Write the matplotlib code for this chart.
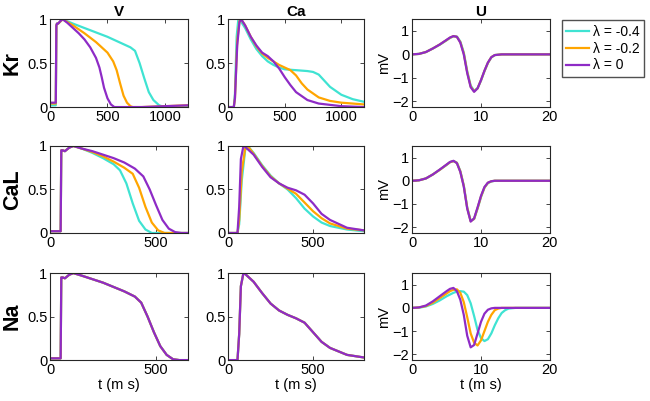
import numpy as np
import matplotlib
matplotlib.use('Agg')
import matplotlib.pyplot as plt

plt.rcParams['font.family'] = ['Liberation Sans', 'DejaVu Sans']
plt.rcParams['font.size'] = 10

cyan = '#3FE3D2'
orange = '#FFA500'
purple = '#8E2BC6'
lam_labels = ['\u03bb = -0.4', '\u03bb = -0.2', '\u03bb = 0']

# ---- Kr row ----
kr_v_t_cyan = [0, 50, 55, 60, 70, 110, 200, 300, 400, 500, 600, 700, 740, 780, 820, 860, 900, 950, 1000, 1200]
kr_v_cyan = [0.02, 0.02, 0.93, 0.95, 0.95, 1.0, 0.95, 0.9, 0.85, 0.8, 0.74, 0.68, 0.64, 0.5, 0.33, 0.17, 0.08, 0.02, 0.0, 0.01]
kr_v_t_orange = [0, 50, 55, 60, 70, 110, 200, 300, 400, 500, 550, 580, 610, 640, 670, 700, 720, 800, 1200]
kr_v_orange = [0.04, 0.04, 0.93, 0.95, 0.95, 1.0, 0.93, 0.84, 0.74, 0.62, 0.52, 0.42, 0.27, 0.13, 0.05, 0.01, 0.0, 0.0, 0.02]
kr_v_t_purple = [0, 50, 55, 60, 70, 90, 110, 150, 200, 250, 300, 350, 400, 430, 450, 470, 500, 530, 560, 600, 800, 1000, 1200]
kr_v_purple = [0.05, 0.05, 0.93, 0.95, 0.95, 0.98, 1.0, 0.96, 0.9, 0.84, 0.77, 0.68, 0.56, 0.45, 0.34, 0.22, 0.1, 0.03, 0.0, 0.0, 0.0, 0.01, 0.02]

kr_ca_t_cyan = [0, 50, 60, 75, 90, 100, 150, 200, 250, 300, 350, 400, 450, 500, 600, 700, 750, 800, 850, 900, 1000, 1100, 1200]
kr_ca_cyan = [0, 0, 0.15, 0.8, 1.0, 1.0, 0.9, 0.77, 0.66, 0.58, 0.52, 0.48, 0.45, 0.43, 0.42, 0.41, 0.4, 0.37, 0.3, 0.23, 0.14, 0.09, 0.06]
kr_ca_t_orange = [0, 50, 60, 80, 100, 115, 150, 200, 250, 300, 350, 400, 450, 500, 550, 600, 650, 700, 800, 900, 1000, 1200]
kr_ca_orange = [0, 0, 0.1, 0.75, 0.98, 1.0, 0.93, 0.8, 0.69, 0.61, 0.56, 0.52, 0.48, 0.45, 0.42, 0.36, 0.27, 0.2, 0.11, 0.07, 0.05, 0.03]
kr_ca_t_purple = [0, 50, 60, 80, 100, 115, 150, 200, 250, 300, 350, 400, 450, 500, 550, 600, 700, 800, 1000, 1200]
kr_ca_purple = [0, 0, 0.1, 0.7, 0.97, 1.0, 0.93, 0.8, 0.7, 0.62, 0.58, 0.52, 0.44, 0.34, 0.25, 0.17, 0.08, 0.04, 0.01, 0.0]

kr_u_t = [0, 1, 2, 3, 4, 5, 5.5, 6, 6.5, 7, 7.5, 8, 8.5, 9, 9.5, 10, 10.5, 11, 11.5, 12, 13, 14, 20]
kr_u_cyan = [0, 0.02, 0.1, 0.25, 0.41, 0.6, 0.7, 0.77, 0.76, 0.55, 0.08, -0.72, -1.33, -1.55, -1.45, -1.12, -0.72, -0.37, -0.13, -0.03, 0, 0, 0]
kr_u_orange = [0, 0.02, 0.1, 0.25, 0.42, 0.61, 0.71, 0.78, 0.75, 0.52, 0.04, -0.76, -1.37, -1.58, -1.45, -1.1, -0.71, -0.36, -0.12, -0.03, 0, 0, 0]
kr_u_purple = [0, 0.02, 0.1, 0.25, 0.42, 0.62, 0.72, 0.78, 0.75, 0.5, 0.0, -0.8, -1.4, -1.6, -1.45, -1.1, -0.7, -0.35, -0.12, -0.03, 0, 0, 0]

# ---- CaL row ----
cal_v_t_cyan = [0, 50, 53, 60, 70, 90, 110, 150, 200, 250, 300, 330, 360, 390, 420, 450, 480, 650]
cal_v_cyan = [0.02, 0.02, 0.95, 0.95, 0.94, 0.98, 1.0, 0.97, 0.92, 0.86, 0.79, 0.72, 0.57, 0.34, 0.14, 0.04, 0.0, 0.0]
cal_v_t_orange = [0, 50, 53, 60, 70, 90, 110, 150, 200, 250, 300, 350, 390, 420, 450, 480, 510, 540, 650]
cal_v_orange = [0.02, 0.02, 0.95, 0.95, 0.94, 0.98, 1.0, 0.97, 0.93, 0.88, 0.82, 0.75, 0.68, 0.52, 0.3, 0.12, 0.03, 0.0, 0.0]
cal_v_t_purple = [0, 50, 53, 60, 70, 90, 110, 150, 200, 250, 300, 350, 400, 440, 470, 500, 530, 560, 590, 620, 650]
cal_v_purple = [0.02, 0.02, 0.95, 0.95, 0.94, 0.98, 1.0, 0.97, 0.94, 0.9, 0.86, 0.81, 0.74, 0.65, 0.5, 0.32, 0.15, 0.05, 0.01, 0.0, 0.0]

cal_ca_t_cyan = [0, 55, 65, 80, 100, 115, 150, 200, 250, 300, 350, 400, 450, 500, 550, 600, 700, 800]
cal_ca_cyan = [0, 0, 0.1, 0.6, 0.95, 1.0, 0.92, 0.78, 0.66, 0.57, 0.5, 0.4, 0.28, 0.19, 0.12, 0.08, 0.04, 0.02]
cal_ca_t_orange = [0, 55, 65, 80, 100, 115, 150, 200, 250, 300, 350, 400, 450, 500, 550, 600, 700, 800]
cal_ca_orange = [0, 0, 0.15, 0.7, 0.97, 1.0, 0.91, 0.77, 0.65, 0.57, 0.51, 0.45, 0.35, 0.25, 0.17, 0.11, 0.05, 0.03]
cal_ca_t_purple = [0, 55, 65, 75, 90, 100, 150, 200, 250, 300, 350, 400, 450, 500, 550, 600, 700, 800]
cal_ca_purple = [0, 0, 0.3, 0.85, 1.0, 0.99, 0.9, 0.76, 0.64, 0.57, 0.52, 0.49, 0.44, 0.34, 0.22, 0.15, 0.06, 0.03]

cal_u_t = [0, 1, 2, 3, 4, 5, 5.5, 6, 6.5, 7, 7.5, 8, 8.5, 9, 9.5, 10, 10.5, 11, 11.5, 12, 13, 20]
cal_u_cyan = [0, 0.02, 0.1, 0.27, 0.47, 0.68, 0.8, 0.85, 0.78, 0.42, -0.2, -1.15, -1.72, -1.65, -1.2, -0.7, -0.3, -0.1, -0.03, 0, 0, 0]
cal_u_orange = [0, 0.02, 0.1, 0.27, 0.47, 0.69, 0.8, 0.85, 0.77, 0.4, -0.22, -1.17, -1.74, -1.64, -1.18, -0.68, -0.29, -0.09, -0.02, 0, 0, 0]
cal_u_purple = [0, 0.02, 0.1, 0.27, 0.48, 0.7, 0.81, 0.86, 0.76, 0.38, -0.25, -1.2, -1.76, -1.62, -1.15, -0.65, -0.27, -0.08, -0.02, 0, 0, 0]

# ---- Na row ----
na_v_t = [0, 50, 53, 60, 70, 90, 110, 150, 200, 250, 300, 350, 400, 430, 460, 490, 520, 550, 580, 610, 650]
na_v = [0.02, 0.02, 0.95, 0.95, 0.94, 0.98, 1.0, 0.97, 0.93, 0.89, 0.84, 0.79, 0.73, 0.66, 0.5, 0.32, 0.16, 0.06, 0.01, 0.0, 0.0]

na_ca_t = [0, 55, 65, 75, 90, 100, 150, 200, 250, 300, 350, 400, 450, 500, 550, 600, 700, 800]
na_ca = [0, 0, 0.3, 0.85, 1.0, 0.99, 0.9, 0.77, 0.65, 0.57, 0.52, 0.48, 0.43, 0.32, 0.21, 0.14, 0.06, 0.03]

na_u_t_cyan = [0, 1, 2, 3, 4, 5, 6, 6.5, 7, 7.5, 8, 8.5, 9, 9.5, 10, 10.5, 11, 11.5, 12, 12.5, 13, 13.5, 14, 15, 20]
na_u_cyan = [0, 0.01, 0.06, 0.17, 0.32, 0.5, 0.65, 0.7, 0.72, 0.7, 0.55, 0.2, -0.35, -0.95, -1.3, -1.43, -1.35, -1.1, -0.75, -0.45, -0.22, -0.1, -0.03, 0, 0]
na_u_t_orange = [0, 1, 2, 3, 4, 5, 5.5, 6, 6.5, 7, 7.5, 8, 8.5, 9, 9.5, 10, 10.5, 11, 11.5, 12, 12.5, 13, 20]
na_u_orange = [0, 0.02, 0.08, 0.22, 0.42, 0.62, 0.72, 0.78, 0.8, 0.65, 0.25, -0.4, -1.1, -1.5, -1.62, -1.4, -1.0, -0.6, -0.3, -0.1, -0.03, 0, 0]
na_u_t_purple = [0, 1, 2, 3, 4, 5, 5.5, 6, 6.5, 7, 7.5, 8, 8.5, 9, 9.5, 10, 10.5, 11, 11.5, 12, 20]
na_u_purple = [0, 0.02, 0.1, 0.28, 0.5, 0.72, 0.82, 0.86, 0.72, 0.35, -0.3, -1.2, -1.7, -1.6, -1.1, -0.6, -0.25, -0.08, -0.02, 0, 0]

row_names = ['Kr', 'CaL', 'Na']
col_names = ['V', 'Ca', 'U']

fig = plt.figure(figsize=(6.5, 4.01), dpi=100)
lefts = [0.077, 0.351, 0.634]
widths = [0.212, 0.209, 0.212]
bottoms = [0.733, 0.419, 0.102]
heights = [0.219, 0.217, 0.217]

axs = [[fig.add_axes([lefts[c], bottoms[r], widths[c], heights[r]]) for c in range(3)] for r in range(3)]

lw = 1.6


def trio(ax, tc, yc, to, yo, tp, yp):
    ax.plot(tc, yc, color=cyan, lw=lw, label=lam_labels[0])
    ax.plot(to, yo, color=orange, lw=lw, label=lam_labels[1])
    ax.plot(tp, yp, color=purple, lw=lw, label=lam_labels[2])


trio(axs[0][0], kr_v_t_cyan, kr_v_cyan, kr_v_t_orange, kr_v_orange, kr_v_t_purple, kr_v_purple)
trio(axs[0][1], kr_ca_t_cyan, kr_ca_cyan, kr_ca_t_orange, kr_ca_orange, kr_ca_t_purple, kr_ca_purple)
trio(axs[0][2], kr_u_t, kr_u_cyan, kr_u_t, kr_u_orange, kr_u_t, kr_u_purple)
trio(axs[1][0], cal_v_t_cyan, cal_v_cyan, cal_v_t_orange, cal_v_orange, cal_v_t_purple, cal_v_purple)
trio(axs[1][1], cal_ca_t_cyan, cal_ca_cyan, cal_ca_t_orange, cal_ca_orange, cal_ca_t_purple, cal_ca_purple)
trio(axs[1][2], cal_u_t, cal_u_cyan, cal_u_t, cal_u_orange, cal_u_t, cal_u_purple)
trio(axs[2][0], na_v_t, na_v, na_v_t, na_v, na_v_t, na_v)
trio(axs[2][1], na_ca_t, na_ca, na_ca_t, na_ca, na_ca_t, na_ca)
trio(axs[2][2], na_u_t_cyan, na_u_cyan, na_u_t_orange, na_u_orange, na_u_t_purple, na_u_purple)

xlims = [[1200, 1200, 20], [650, 800, 20], [650, 800, 20]]
xticks = [[[0, 500, 1000], [0, 500, 1000], [0, 10, 20]],
          [[0, 500], [0, 500], [0, 10, 20]],
          [[0, 500], [0, 500], [0, 10, 20]]]

for r in range(3):
    for c in range(3):
        ax = axs[r][c]
        ax.set_xlim(0, xlims[r][c])
        ax.set_xticks(xticks[r][c])
        if c < 2:
            ax.set_ylim(0, 1)
            ax.set_yticks([0, 0.5, 1])
            ax.set_yticklabels(['0', '0.5', '1'])
        else:
            ax.set_ylim(-2.25, 1.5)
            ax.set_yticks([-2, -1, 0, 1])
            ax.set_ylabel('mV', labelpad=1, fontsize=10.5)
        ax.tick_params(direction='in', top=True, right=True, length=3, width=0.6,
                       labelsize=10.5, pad=2, colors='#262626', labelcolor='black')
        for s in ax.spines.values():
            s.set_linewidth(0.8)
            s.set_color('#262626')
        if r == 0:
            ax.set_title(col_names[c], fontweight='bold', fontsize=11, pad=2)
        if r == 2:
            ax.set_xlabel('t (m s)', labelpad=1, fontsize=10.5)

for r in range(3):
    axs[r][0].set_ylabel(row_names[r], fontweight='bold', fontsize=15.5, labelpad=3)

handles, labels = axs[0][2].get_legend_handles_labels()
fig.legend(handles, labels, loc='upper left', bbox_to_anchor=(0.864, 0.95),
           frameon=True, fancybox=False, edgecolor='#262626', fontsize=10,
           handlelength=1.6, handletextpad=0.3, borderpad=0.35, labelspacing=0.2,
           borderaxespad=0)

fig.savefig('out.png', dpi=100)
